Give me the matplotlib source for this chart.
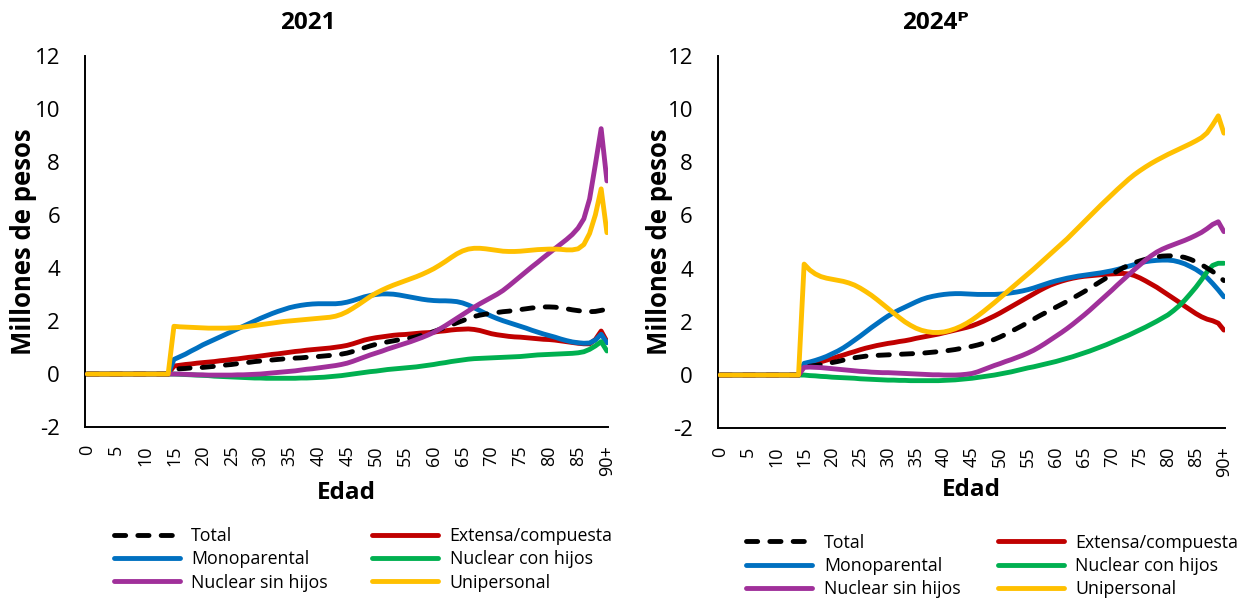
import matplotlib
matplotlib.use("Agg")
import matplotlib.pyplot as plt

plt.rcParams["font.family"] = ["Open Sans", "DejaVu Sans"]
plt.rcParams["axes.unicode_minus"] = False

# edades 0..90+ ; todas las series valen 0 de 0 a 14 años
ages = list(range(91))
tick_labels = [str(a) for a in range(0, 90, 5)] + ["90+"]
zeros = [0.0] * 15

# ---- 2021 (valores de 15 a 90+) ----
total_21 = [0.18, 0.20, 0.21, 0.23, 0.24, 0.25, 0.27, 0.29, 0.31, 0.34,
            0.36, 0.39, 0.42, 0.44, 0.47, 0.49, 0.51, 0.53, 0.55, 0.57,
            0.58, 0.60, 0.61, 0.63, 0.64, 0.66, 0.68, 0.70, 0.72, 0.75,
            0.79, 0.85, 0.92, 0.99, 1.06, 1.12, 1.17, 1.21, 1.25, 1.29,
            1.32, 1.36, 1.41, 1.47, 1.53, 1.60, 1.68, 1.76, 1.85, 1.93,
            2.01, 2.10, 2.17, 2.22, 2.26, 2.29, 2.32, 2.35, 2.37, 2.40,
            2.43, 2.46, 2.49, 2.51, 2.53, 2.53, 2.52, 2.49, 2.46, 2.42,
            2.39, 2.36, 2.35, 2.36, 2.40, 2.44]
extensa_21 = [0.30, 0.33, 0.36, 0.38, 0.41, 0.43, 0.45, 0.47, 0.50, 0.52,
              0.55, 0.57, 0.60, 0.63, 0.65, 0.68, 0.71, 0.74, 0.76, 0.79,
              0.82, 0.85, 0.87, 0.90, 0.92, 0.94, 0.96, 0.98, 1.01, 1.04,
              1.08, 1.14, 1.21, 1.28, 1.33, 1.37, 1.40, 1.43, 1.46, 1.48,
              1.49, 1.51, 1.53, 1.55, 1.56, 1.58, 1.61, 1.63, 1.66, 1.68,
              1.69, 1.70, 1.68, 1.64, 1.58, 1.52, 1.48, 1.45, 1.42, 1.40,
              1.39, 1.37, 1.35, 1.33, 1.31, 1.30, 1.28, 1.25, 1.22, 1.19,
              1.16, 1.14, 1.14, 1.30, 1.62, 1.22]
mono_21 = [0.55, 0.65, 0.75, 0.87, 0.98, 1.10, 1.20, 1.30, 1.40, 1.50,
           1.60, 1.70, 1.80, 1.90, 2.00, 2.10, 2.19, 2.28, 2.36, 2.43,
           2.50, 2.55, 2.59, 2.62, 2.64, 2.65, 2.65, 2.65, 2.65, 2.67,
           2.71, 2.77, 2.84, 2.91, 2.96, 3.00, 3.02, 3.02, 3.01, 2.98,
           2.94, 2.90, 2.86, 2.82, 2.79, 2.77, 2.76, 2.76, 2.75, 2.73,
           2.68, 2.60, 2.50, 2.39, 2.28, 2.18, 2.09, 2.01, 1.94, 1.87,
           1.80, 1.73, 1.65, 1.58, 1.51, 1.45, 1.39, 1.32, 1.26, 1.21,
           1.18, 1.16, 1.17, 1.28, 1.50, 1.18]
con_hijos_21 = [0.00, -0.01, -0.02, -0.03, -0.04, -0.05, -0.06, -0.08, -0.09, -0.10,
                -0.11, -0.12, -0.13, -0.14, -0.15, -0.15, -0.16, -0.16, -0.16, -0.16,
                -0.16, -0.16, -0.15, -0.15, -0.14, -0.13, -0.12, -0.10, -0.08, -0.06,
                -0.03, 0.00, 0.03, 0.06, 0.09, 0.11, 0.14, 0.17, 0.19, 0.21,
                0.23, 0.25, 0.27, 0.30, 0.33, 0.36, 0.40, 0.43, 0.47, 0.50,
                0.53, 0.56, 0.58, 0.59, 0.60, 0.61, 0.62, 0.63, 0.64, 0.65,
                0.66, 0.68, 0.70, 0.72, 0.73, 0.74, 0.75, 0.76, 0.77, 0.78,
                0.80, 0.84, 0.93, 1.06, 1.22, 0.87]
sin_hijos_21 = [0.00, 0.00, -0.01, -0.02, -0.03, -0.03, -0.04, -0.04, -0.04, -0.04,
                -0.04, -0.03, -0.03, -0.02, -0.01, 0.00, 0.02, 0.04, 0.06, 0.08,
                0.10, 0.12, 0.15, 0.18, 0.20, 0.23, 0.26, 0.29, 0.32, 0.36,
                0.41, 0.48, 0.56, 0.64, 0.72, 0.79, 0.86, 0.94, 1.01, 1.08,
                1.15, 1.22, 1.30, 1.38, 1.47, 1.57, 1.69, 1.82, 1.96, 2.10,
                2.24, 2.38, 2.52, 2.65, 2.77, 2.89, 3.01, 3.15, 3.32, 3.50,
                3.68, 3.86, 4.04, 4.21, 4.39, 4.56, 4.73, 4.90, 5.07, 5.26,
                5.50, 5.85, 6.60, 7.90, 9.25, 7.28]
uniper_21 = [1.80, 1.78, 1.77, 1.76, 1.75, 1.74, 1.73, 1.73, 1.73, 1.73,
             1.74, 1.75, 1.77, 1.80, 1.83, 1.86, 1.89, 1.92, 1.95, 1.98,
             2.00, 2.02, 2.04, 2.06, 2.08, 2.10, 2.12, 2.14, 2.18, 2.25,
             2.35, 2.48, 2.62, 2.77, 2.92, 3.05, 3.16, 3.26, 3.35, 3.43,
             3.51, 3.59, 3.67, 3.76, 3.86, 3.97, 4.10, 4.24, 4.39, 4.53,
             4.64, 4.71, 4.74, 4.74, 4.72, 4.69, 4.66, 4.63, 4.62, 4.62,
             4.63, 4.65, 4.67, 4.69, 4.70, 4.71, 4.71, 4.70, 4.68, 4.68,
             4.72, 4.88, 5.30, 6.00, 6.98, 5.33]

# ---- 2024p (valores de 15 a 90+) ----
total_24 = [0.31, 0.33, 0.36, 0.39, 0.43, 0.47, 0.51, 0.56, 0.61, 0.65,
            0.68, 0.71, 0.73, 0.74, 0.75, 0.76, 0.77, 0.78, 0.79, 0.80,
            0.81, 0.82, 0.84, 0.86, 0.88, 0.90, 0.93, 0.96, 1.00, 1.04,
            1.08, 1.13, 1.19, 1.26, 1.34, 1.43, 1.53, 1.64, 1.75, 1.86,
            1.98, 2.10, 2.22, 2.33, 2.44, 2.55, 2.66, 2.77, 2.89, 3.01,
            3.13, 3.26, 3.39, 3.52, 3.65, 3.78, 3.91, 4.03, 4.13, 4.22,
            4.29, 4.35, 4.40, 4.44, 4.47, 4.48, 4.48, 4.46, 4.42, 4.35,
            4.26, 4.15, 4.02, 3.89, 3.73, 3.55]
extensa_24 = [0.38, 0.41, 0.45, 0.50, 0.56, 0.62, 0.69, 0.75, 0.82, 0.88,
              0.95, 1.01, 1.06, 1.11, 1.15, 1.19, 1.22, 1.26, 1.29, 1.33,
              1.38, 1.42, 1.46, 1.50, 1.54, 1.59, 1.64, 1.69, 1.74, 1.79,
              1.85, 1.93, 2.02, 2.12, 2.22, 2.33, 2.45, 2.57, 2.69, 2.81,
              2.93, 3.05, 3.17, 3.28, 3.38, 3.46, 3.53, 3.59, 3.64, 3.68,
              3.71, 3.73, 3.75, 3.77, 3.79, 3.80, 3.81, 3.82, 3.80, 3.74,
              3.65, 3.54, 3.42, 3.30, 3.16, 3.02, 2.88, 2.74, 2.59, 2.45,
              2.31, 2.19, 2.10, 2.04, 1.95, 1.69]
mono_24 = [0.44, 0.49, 0.55, 0.62, 0.70, 0.80, 0.90, 1.02, 1.16, 1.31,
           1.46, 1.62, 1.78, 1.93, 2.08, 2.22, 2.34, 2.45, 2.55, 2.65,
           2.75, 2.84, 2.91, 2.96, 3.00, 3.03, 3.05, 3.06, 3.06, 3.05,
           3.04, 3.03, 3.03, 3.03, 3.03, 3.04, 3.06, 3.09, 3.12, 3.16,
           3.21, 3.27, 3.34, 3.41, 3.48, 3.54, 3.59, 3.64, 3.68, 3.72,
           3.75, 3.78, 3.81, 3.84, 3.88, 3.92, 3.97, 4.03, 4.09, 4.15,
           4.21, 4.26, 4.29, 4.31, 4.32, 4.32, 4.30, 4.25, 4.18, 4.08,
           3.97, 3.83, 3.66, 3.44, 3.20, 2.94]
con_hijos_24 = [0.00, -0.02, -0.03, -0.05, -0.06, -0.08, -0.09, -0.10, -0.11, -0.12,
                -0.14, -0.15, -0.16, -0.17, -0.18, -0.19, -0.19, -0.20, -0.20, -0.21,
                -0.21, -0.21, -0.21, -0.21, -0.21, -0.20, -0.19, -0.18, -0.16, -0.14,
                -0.12, -0.09, -0.06, -0.03, 0.00, 0.04, 0.08, 0.12, 0.17, 0.22,
                0.27, 0.31, 0.36, 0.41, 0.46, 0.51, 0.57, 0.63, 0.69, 0.76,
                0.83, 0.90, 0.98, 1.06, 1.14, 1.23, 1.32, 1.41, 1.50, 1.60,
                1.70, 1.80, 1.91, 2.02, 2.14, 2.26, 2.42, 2.60, 2.81, 3.05,
                3.30, 3.58, 3.88, 4.12, 4.20, 4.20]
sin_hijos_24 = [0.29, 0.30, 0.29, 0.28, 0.26, 0.24, 0.22, 0.20, 0.18, 0.16,
                0.14, 0.13, 0.11, 0.10, 0.09, 0.09, 0.08, 0.07, 0.06, 0.05,
                0.04, 0.03, 0.02, 0.01, 0.01, 0.00, 0.00, 0.00, 0.01, 0.03,
                0.06, 0.12, 0.20, 0.28, 0.36, 0.43, 0.51, 0.58, 0.66, 0.74,
                0.83, 0.93, 1.05, 1.18, 1.32, 1.46, 1.60, 1.75, 1.91, 2.08,
                2.25, 2.43, 2.62, 2.81, 3.00, 3.19, 3.39, 3.58, 3.77, 3.96,
                4.14, 4.32, 4.48, 4.62, 4.73, 4.82, 4.90, 4.98, 5.06, 5.15,
                5.25, 5.36, 5.50, 5.66, 5.76, 5.39]
uniper_24 = [4.17, 3.95, 3.80, 3.70, 3.64, 3.60, 3.56, 3.52, 3.46, 3.38,
             3.27, 3.14, 3.00, 2.84, 2.67, 2.50, 2.33, 2.16, 2.00, 1.87,
             1.76, 1.68, 1.63, 1.60, 1.60, 1.62, 1.67, 1.74, 1.83, 1.94,
             2.07, 2.22, 2.38, 2.55, 2.72, 2.90, 3.08, 3.26, 3.44, 3.62,
             3.80, 3.98, 4.17, 4.36, 4.55, 4.74, 4.93, 5.12, 5.33, 5.54,
             5.75, 5.96, 6.17, 6.38, 6.58, 6.78, 6.98, 7.17, 7.36, 7.53,
             7.68, 7.82, 7.95, 8.07, 8.18, 8.29, 8.39, 8.49, 8.59, 8.69,
             8.80, 8.92, 9.10, 9.40, 9.74, 9.09]

# (etiqueta, color, zorder) en el orden de dibujo
styles = [
    ("Extensa/compuesta", "#C00000", 2.0),
    ("Monoparental", "#0070C0", 2.1),
    ("Nuclear con hijos", "#00B050", 2.2),
    ("Total", "black", 2.5),
    ("Nuclear sin hijos", "#A0309A", 2.6),
    ("Unipersonal", "#FFC000", 2.7),
]
legend_order = ["Total", "Monoparental", "Nuclear sin hijos",
                "Extensa/compuesta", "Nuclear con hijos", "Unipersonal"]


def draw_panel(ax, title, series, title_x, ylabel_x, xlabel_y,
               legend_x, legend_y, colspace):
    handles = {}
    for label, color, z in styles:
        vals = zeros + series[label]
        if label == "Total":
            line, = ax.plot(ages, vals, color=color, lw=3.5, zorder=z,
                            dashes=(2.3, 2.5), dash_capstyle="round")
        else:
            line, = ax.plot(ages, vals, color=color, lw=3.5, zorder=z,
                            solid_capstyle="round")
        handles[label] = line

    ax.set_xlim(-0.4, 90.2)
    ax.set_ylim(-2, 12)
    ax.set_yticks(range(-2, 13, 2))
    ax.set_xticks(range(0, 91, 5))
    ax.set_xticklabels(tick_labels, rotation=90)
    ax.tick_params(axis="both", length=0)
    ax.tick_params(axis="y", pad=18, labelsize=16)
    ax.tick_params(axis="x", pad=13, labelsize=13)
    for side in ("top", "right"):
        ax.spines[side].set_visible(False)
    for side in ("left", "bottom"):
        ax.spines[side].set_linewidth(1.4)

    ax.text(title_x, 1.087, title, transform=ax.transAxes, ha="center",
            va="center", fontsize=17.5, fontweight="bold")
    ax.set_ylabel("Millones de pesos", fontsize=18.5, fontweight="bold",
                  va="center")
    ax.yaxis.set_label_coords(ylabel_x, 0.5)
    ax.set_xlabel("Edad", fontsize=17.5, fontweight="bold", va="center")
    ax.xaxis.set_label_coords(0.5, xlabel_y)

    ax.legend([handles[k] for k in legend_order], legend_order, ncol=2,
              loc="upper center", bbox_to_anchor=(legend_x, legend_y),
              frameon=False, fontsize=12.8, handlelength=3.7,
              handletextpad=0.65, columnspacing=colspace, labelspacing=0.3)


fig = plt.figure(figsize=(12.43, 5.99), dpi=100)
ax1 = fig.add_axes([0.0684, 0.287, 0.4208, 0.620])
ax2 = fig.add_axes([0.5776, 0.285, 0.4079, 0.622])

draw_panel(ax1, "2021",
           {"Total": total_21, "Extensa/compuesta": extensa_21,
            "Monoparental": mono_21, "Nuclear con hijos": con_hijos_21,
            "Nuclear sin hijos": sin_hijos_21, "Unipersonal": uniper_21},
           0.426, -0.118, -0.178, 0.532, -0.226, 2.5)
draw_panel(ax2, "2024ᴾ",
           {"Total": total_24, "Extensa/compuesta": extensa_24,
            "Monoparental": mono_24, "Nuclear con hijos": con_hijos_24,
            "Nuclear sin hijos": sin_hijos_24, "Unipersonal": uniper_24},
           0.428, -0.115, -0.165, 0.541, -0.24, 2.1)

fig.savefig("out.png", dpi=100)
